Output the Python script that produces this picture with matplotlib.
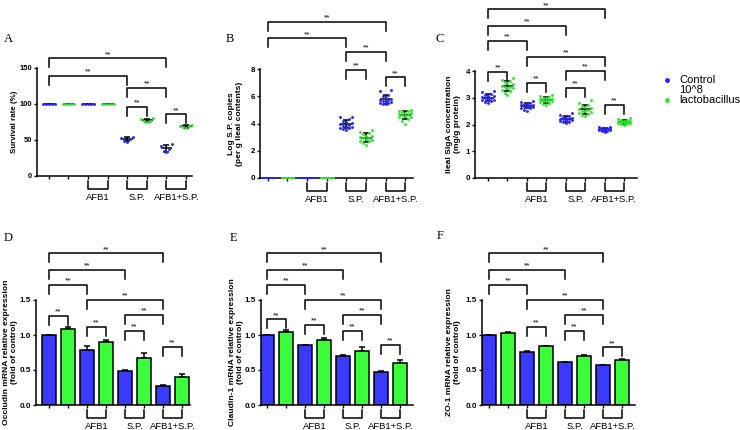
import numpy as np
import matplotlib
matplotlib.use("Agg")
import matplotlib.pyplot as plt
from matplotlib.lines import Line2D

plt.rcParams['font.family'] = ['Liberation Sans', 'DejaVu Sans']

W, H = 740, 430

series_names = ["Control", "10^8\nlactobacillus"]
group_labels = ["AFB1", "S.P.", "AFB1+S.P."]
bar_blue = "#3a3aff"
bar_green = "#3cff3c"
dot_blue = "#2626ff"
dot_green = "#2ee62e"

# A - survival rate (%), groups alternate control / lactobacillus
survival = [
    [100, 100, 100, 100, 100],
    [100, 100, 100, 100, 100],
    [100, 100, 100, 100, 100],
    [100, 100, 100, 100, 100],
    [47, 49, 51, 53, 54],
    [75, 76, 77, 79, 80],
    [33, 35, 38, 42, 44],
    [66, 68, 69, 70, 71],
]

# B - log S.P. copies
copies = [
    [0, 0, 0, 0, 0, 0, 0, 0, 0, 0, 0, 0, 0, 0, 0],
    [0, 0, 0, 0, 0, 0, 0, 0, 0, 0, 0, 0, 0, 0, 0],
    [0, 0, 0, 0, 0, 0, 0, 0, 0, 0, 0, 0, 0, 0, 0],
    [0, 0, 0, 0, 0, 0, 0, 0, 0, 0, 0, 0, 0, 0, 0],
    [3.55, 3.6, 3.65, 3.7, 3.75, 3.8, 3.85, 3.9, 4.0, 4.05, 4.1, 4.2, 4.3, 4.45, 4.5],
    [2.45, 2.6, 2.7, 2.75, 2.8, 2.85, 2.9, 2.95, 3.0, 3.05, 3.1, 3.2, 3.3, 3.4, 3.5],
    [5.4, 5.45, 5.5, 5.5, 5.55, 5.6, 5.65, 5.7, 5.75, 5.8, 5.9, 6.0, 6.1, 6.4, 6.45],
    [4.0, 4.2, 4.35, 4.45, 4.5, 4.55, 4.6, 4.65, 4.7, 4.75, 4.8, 4.85, 4.9, 4.95, 5.0],
]

# C - ileal SIgA (mg/g protein)
siga = [
    [2.8, 2.85, 2.88, 2.9, 2.93, 2.95, 2.98, 3.0, 3.02, 3.05, 3.08, 3.1, 3.15, 3.2, 3.24],
    [3.1, 3.18, 3.25, 3.3, 3.35, 3.38, 3.4, 3.42, 3.45, 3.5, 3.55, 3.6, 3.62, 3.68, 3.72],
    [2.52, 2.56, 2.6, 2.62, 2.65, 2.67, 2.69, 2.7, 2.72, 2.74, 2.76, 2.78, 2.8, 2.84, 2.87],
    [2.73, 2.78, 2.82, 2.85, 2.87, 2.89, 2.91, 2.92, 2.94, 2.96, 2.98, 3.0, 3.03, 3.06, 3.1],
    [2.05, 2.08, 2.1, 2.12, 2.15, 2.17, 2.19, 2.2, 2.22, 2.24, 2.26, 2.29, 2.32, 2.36, 2.42],
    [2.3, 2.35, 2.4, 2.43, 2.46, 2.5, 2.52, 2.55, 2.58, 2.6, 2.64, 2.68, 2.74, 2.82, 2.9],
    [1.72, 1.74, 1.76, 1.78, 1.79, 1.8, 1.81, 1.82, 1.83, 1.84, 1.85, 1.86, 1.87, 1.89, 1.91],
    [1.98, 2.01, 2.03, 2.05, 2.07, 2.08, 2.09, 2.1, 2.11, 2.12, 2.14, 2.16, 2.18, 2.2, 2.23],
]

# D, E, F - mRNA relative expression (fold of control), mean and upper error
occludin = [1.0, 1.09, 0.79, 0.905, 0.49, 0.67, 0.27, 0.40]
occludin_err = [0.0, 0.03, 0.06, 0.03, 0.005, 0.07, 0.01, 0.05]
claudin = [1.0, 1.05, 0.857, 0.93, 0.70, 0.77, 0.47, 0.60]
claudin_err = [0.0, 0.015, 0.0, 0.025, 0.01, 0.06, 0.01, 0.04]
zo1 = [1.0, 1.03, 0.757, 0.84, 0.61, 0.70, 0.567, 0.64]
zo1_err = [0.0, 0.015, 0.012, 0.01, 0.008, 0.02, 0.005, 0.015]

# significance brackets: (group i, group j, height of the bar)
sig_A = [(1, 7, 163.5), (1, 5, 138.9), (5, 7, 122.6), (5, 6, 96.3), (7, 8, 85.6)]
sig_B = [(1, 7, 11.46), (1, 5, 10.25), (5, 7, 9.27), (5, 6, 7.93), (7, 8, 7.39)]
sig_C = [(1, 7, 6.31), (1, 5, 5.68), (1, 3, 5.12), (3, 7, 4.53), (5, 7, 4.0),
         (1, 2, 3.97), (3, 4, 3.56), (5, 6, 3.38), (7, 8, 2.73)]
sig_D = [(1, 7, 2.167), (1, 5, 1.929), (1, 3, 1.714), (3, 7, 1.5), (5, 7, 1.286),
         (1, 2, 1.276), (3, 4, 1.119), (5, 6, 1.062), (7, 8, 0.833)]
sig_E = [(1, 7, 2.167), (1, 5, 1.929), (1, 3, 1.714), (3, 7, 1.5), (5, 7, 1.286),
         (1, 2, 1.224), (3, 4, 1.143), (5, 6, 1.062), (7, 8, 0.857)]
sig_F = [(1, 7, 2.167), (1, 5, 1.929), (1, 3, 1.714), (3, 7, 1.5), (5, 7, 1.286),
         (3, 4, 1.119), (5, 6, 1.062), (7, 8, 0.824)]

fig = plt.figure(figsize=(W / 100, H / 100), dpi=100)


def add_panel(left, top, right, bottom, xlim, ylim, yticks, ylabel, label_px, fs=5.8):
    ax = fig.add_axes([left / W, 1 - bottom / H, (right - left) / W, (bottom - top) / H])
    ax.set_xlim(*xlim)
    ax.set_ylim(*ylim)
    ax.set_yticks(yticks)
    ax.set_xticks(range(1, 9))
    ax.set_xticklabels([])
    for s in ['top', 'right']:
        ax.spines[s].set_visible(False)
    for s in ['left', 'bottom']:
        ax.spines[s].set_linewidth(1.1)
    ax.tick_params(direction='out', length=2.2, width=1.0, labelsize=fs, pad=1.5)
    for lab in ax.get_yticklabels():
        lab.set_fontweight('bold')
    ax.set_ylabel(ylabel, fontsize=fs + 0.3, fontweight='bold', linespacing=1.15)
    ax.yaxis.set_label_coords(-label_px / ax.bbox.width, 0.5)
    return ax


def group_brackets(ax):
    h = ax.bbox.height
    y0, y1, yt = -5 / h, -13 / h, -21.5 / h
    tr = ax.get_xaxis_transform()
    for k, name in enumerate(group_labels):
        a, b = 3 + 2 * k, 4 + 2 * k
        ax.plot([a, a, b, b], [y0, y1, y1, y0], color='k', lw=1.1, transform=tr, clip_on=False)
        ax.text((a + b) / 2, yt, name, transform=tr, ha='center', va='center', fontsize=6.8)


def sig_brackets(ax, sigs, leg_px=9):
    lo, hi = ax.get_ylim()
    per_px = (hi - lo) / ax.bbox.height
    for i, j, y in sigs:
        leg = y - leg_px * per_px
        ax.plot([i, i, j, j], [leg, y, y, leg], color='k', lw=1.1, clip_on=False)
        ax.annotate('**', xy=((i + j) / 2, y), xytext=(0, 1.6), textcoords='offset points',
                    ha='center', va='baseline', fontsize=6, annotation_clip=False)


def dot_panel(ax, data):
    for g, vals in enumerate(data):
        x = g + 1
        col = dot_blue if g % 2 == 0 else dot_green
        vals = np.sort(np.array(vals, dtype=float))
        offs = np.array([0, -1, 1, -2, 2])[np.arange(len(vals)) % 5] * 0.15
        m, sd = vals.mean(), vals.std(ddof=1)
        ax.hlines(m, x - 0.3, x + 0.3, color='k', lw=1.1, zorder=2)
        ax.errorbar(x, m, yerr=sd, fmt='none', ecolor='k', elinewidth=1.1,
                    capsize=2, capthick=1.1, zorder=2)
        ax.plot(x + offs, vals, 'o', ms=2.1, color=col, mec='none', zorder=3)


def bar_panel(ax, means, errs):
    xs = np.arange(1, 9)
    cols = [bar_blue, bar_green] * 4
    ax.errorbar(xs, means, yerr=[np.zeros(len(errs)), errs], fmt='none', ecolor='k',
                elinewidth=1.1, capsize=2.2, capthick=1.1, zorder=1)
    ax.bar(xs, means, width=0.72, color=cols, edgecolor='k', linewidth=1.1, zorder=2)


axA = add_panel(37, 68, 192, 176, (0.4, 8.3), (0, 150), [0, 50, 100, 150],
                "Survival rate (%)", 19, fs=5.4)
dot_panel(axA, survival)
sig_brackets(axA, sig_A)
group_brackets(axA)

axB = add_panel(260, 69, 413, 178, (0.6, 8.4), (0, 8), [0, 2, 4, 6, 8],
                "Log S.P. copies\n(per g ileal contents)", 17)
dot_panel(axB, copies)
sig_brackets(axB, sig_B)
group_brackets(axB)

axC = add_panel(475, 71, 637, 178, (0.33, 8.67), (0, 4), [0, 1, 2, 3, 4],
                "Ileal SIgA concentration\n(mg/g protein)", 14)
dot_panel(axC, siga)
sig_brackets(axC, sig_C)
group_brackets(axC)

axD = add_panel(36, 300, 190, 405, (0.32, 8.42), (0, 1.5), [0, 0.5, 1.0, 1.5],
                "Occludin mRNA relative expression\n(fold of control)", 18)
bar_panel(axD, occludin, occludin_err)
sig_brackets(axD, sig_D)
group_brackets(axD)

axE = add_panel(261, 300, 413, 405, (0.68, 8.68), (0, 1.5), [0, 0.5, 1.0, 1.5],
                "Claudin-1 mRNA relative expression\n(fold of control)", 17.5)
bar_panel(axE, claudin, claudin_err)
sig_brackets(axE, sig_E)
group_brackets(axE)

axF = add_panel(482, 300, 635, 405, (0.63, 8.68), (0, 1.5), [0, 0.5, 1.0, 1.5],
                "ZO-1 mRNA relative expression\n(fold of control)", 21)
bar_panel(axF, zo1, zo1_err)
sig_brackets(axF, sig_F)
group_brackets(axF)

for ax in [axD, axE, axF]:
    ax.set_yticklabels(["0.0", "0.5", "1.0", "1.5"], fontweight='bold')

# panel letters
for letter, (x, y) in zip("ABCDEF", [(8.5, 39), (230, 39), (440, 39), (8.5, 238), (233, 238), (440, 236)]):
    fig.text(x / W, 1 - y / H, letter, family='Liberation Serif', fontsize=9, ha='center', va='center')

# legend
fig.add_artist(Line2D([667 / W], [1 - 80 / H], marker='o', ms=2.5, color=dot_blue, ls='none',
                      transform=fig.transFigure))
fig.add_artist(Line2D([667 / W], [1 - 100 / H], marker='o', ms=2.5, color=dot_green, ls='none',
                      transform=fig.transFigure))
fig.text(679 / W, 1 - 80 / H, series_names[0], fontsize=8, va='center')
fig.text(679 / W, 1 - 95 / H, series_names[1], fontsize=8, va='center', linespacing=1.0)

fig.savefig("out.png", dpi=100)
